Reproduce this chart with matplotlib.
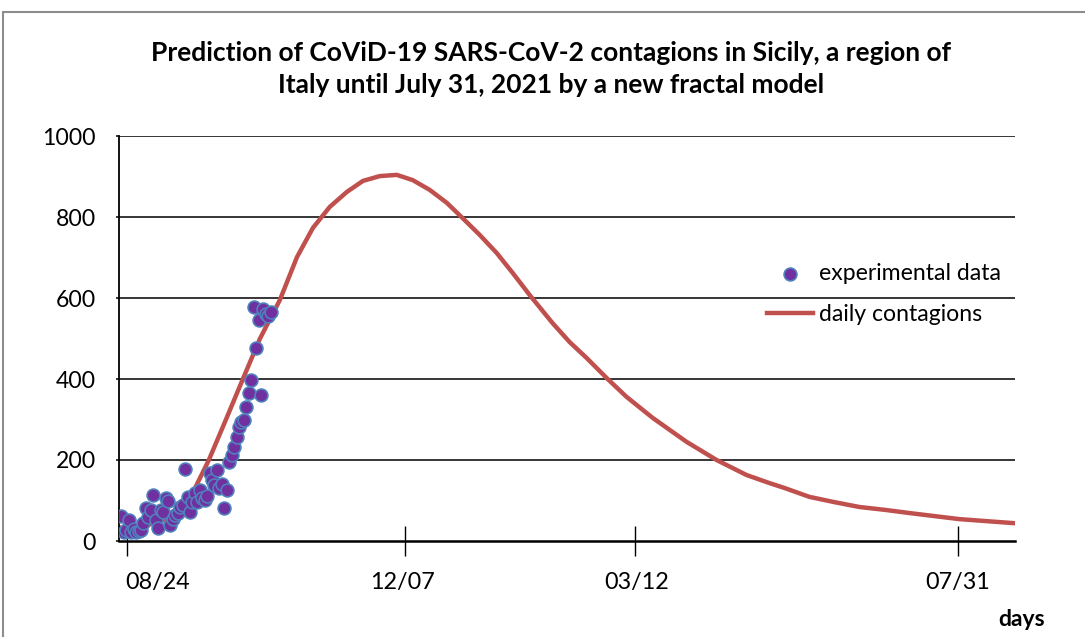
import matplotlib
matplotlib.use("Agg")
import matplotlib.pyplot as plt
from matplotlib.patches import Rectangle

# experimental daily cases, one value per day starting 08/21/2020
data_days = list(range(1, 63))
data_cases = [62, 22, 28, 52, 22, 30, 22, 25, 28, 45,
              81, 60, 77, 114, 52, 32, 77, 72, 106, 100,
              40, 55, 64, 70, 84, 90, 178, 109, 72, 96,
              118, 96, 126, 106, 101, 110, 168, 151, 138, 175,
              130, 140, 81, 126, 195, 212, 232, 257, 281, 294,
              299, 331, 365, 398, 578, 477, 546, 360, 572, 560,
              555, 565]

# fractal model curve
model_days = [0.4, 9.8, 16.7, 20.8, 24.9, 30.2, 36.7, 43.7, 50.6, 57.6,
              65.7, 72.7, 79.2, 86.1, 93.1, 99.6, 106.5, 113.5, 120.0, 126.9,
              133.9, 140.4, 147.3, 154.3, 160.8, 167.8, 177.1, 184.1, 191.0,
              199.6, 207.3, 218.0, 231.8, 244.1, 256.3, 265.7, 271.8, 282.0,
              292.2, 302.4, 312.7, 322.9, 343.3, 365.7]
model_cases = [33, 37, 47, 60, 88, 120, 200, 300, 400, 500,
               595, 701, 773, 825, 862, 889, 901, 904, 891, 867,
               835, 797, 756, 711, 662, 607, 538, 491, 452,
               400, 356, 304, 245, 200, 163, 143, 131, 109,
               96, 84, 77, 69, 54, 44]

tick_marks = [3.3, 116.7, 210.6, 342.9]
label_pos = [15.9, 115.9, 211.4, 342.4]
date_labels = ["08/24", "12/07", "03/12", "07/31"]
y_ticks = [0, 200, 400, 600, 800, 1000]

title = ("Prediction of CoViD-19 SARS-CoV-2 contagions in Sicily, a region of\n"
         "Italy until July 31, 2021 by a new fractal model")

plt.rcParams['font.family'] = ['Lato', 'DejaVu Sans']


def make_plot():
    fig = plt.figure(figsize=(10.85, 6.37), dpi=100)
    ax = fig.add_axes([119 / 1085, 1 - 541 / 637, 896 / 1085, 405 / 637])

    # grey frame round the chart area
    fig.patches.append(Rectangle((3 / 1085, -0.1), 1.2, 1 - 12 / 637 + 0.1,
                                 transform=fig.transFigure, fill=False,
                                 edgecolor="#8c8c8c", linewidth=1.5))

    for y in y_ticks[1:]:
        ax.axhline(y, color="black", linewidth=1.1, zorder=1)

    ax.plot(model_days, model_cases, color="#C0504D", linewidth=3.2,
            solid_joinstyle="round", label="daily contagions", zorder=2)
    ax.scatter(data_days, data_cases, s=85, facecolor="#7030A0",
               edgecolor="#4F81BD", linewidth=1.2, label="experimental data",
               zorder=3)

    ax.set_xlim(0, 366)
    ax.set_ylim(0, 1000)

    for side in ["top", "right"]:
        ax.spines[side].set_visible(False)
    ax.spines["left"].set_linewidth(1.3)
    ax.spines["bottom"].set_linewidth(1.8)

    ax.set_yticks(y_ticks)
    ax.tick_params(axis="y", direction="out", length=2.5, width=1.1,
                   pad=14, labelsize=16.6)

    # tick marks and date labels are a little apart on this chart
    ax.set_xticks(label_pos, labels=date_labels)
    ax.set_xticks(tick_marks, minor=True)
    ax.tick_params(axis="x", which="major", length=0, pad=22, labelsize=16.8)
    ax.tick_params(axis="x", which="minor", direction="inout", length=22,
                   width=1.0)

    handles, labels = ax.get_legend_handles_labels()
    ax.legend(handles[::-1], labels[::-1], loc="center left",
              bbox_to_anchor=(0.723, 0.61), frameon=False, fontsize=16.6,
              borderpad=0, borderaxespad=0, handlelength=2.0,
              handletextpad=0.25, labelspacing=0.85, markerscale=1.0)

    fig.text(551 / 1085, 1 - 69 / 637, title, ha="center", va="center",
             fontsize=19, fontweight="bold", linespacing=1.4)
    fig.text(1022 / 1085, 1 - 620 / 637, "days", ha="center", va="center",
             fontsize=16.5, fontweight="bold")

    fig.savefig("out.png", dpi=100)


if __name__ == "__main__":
    make_plot()
